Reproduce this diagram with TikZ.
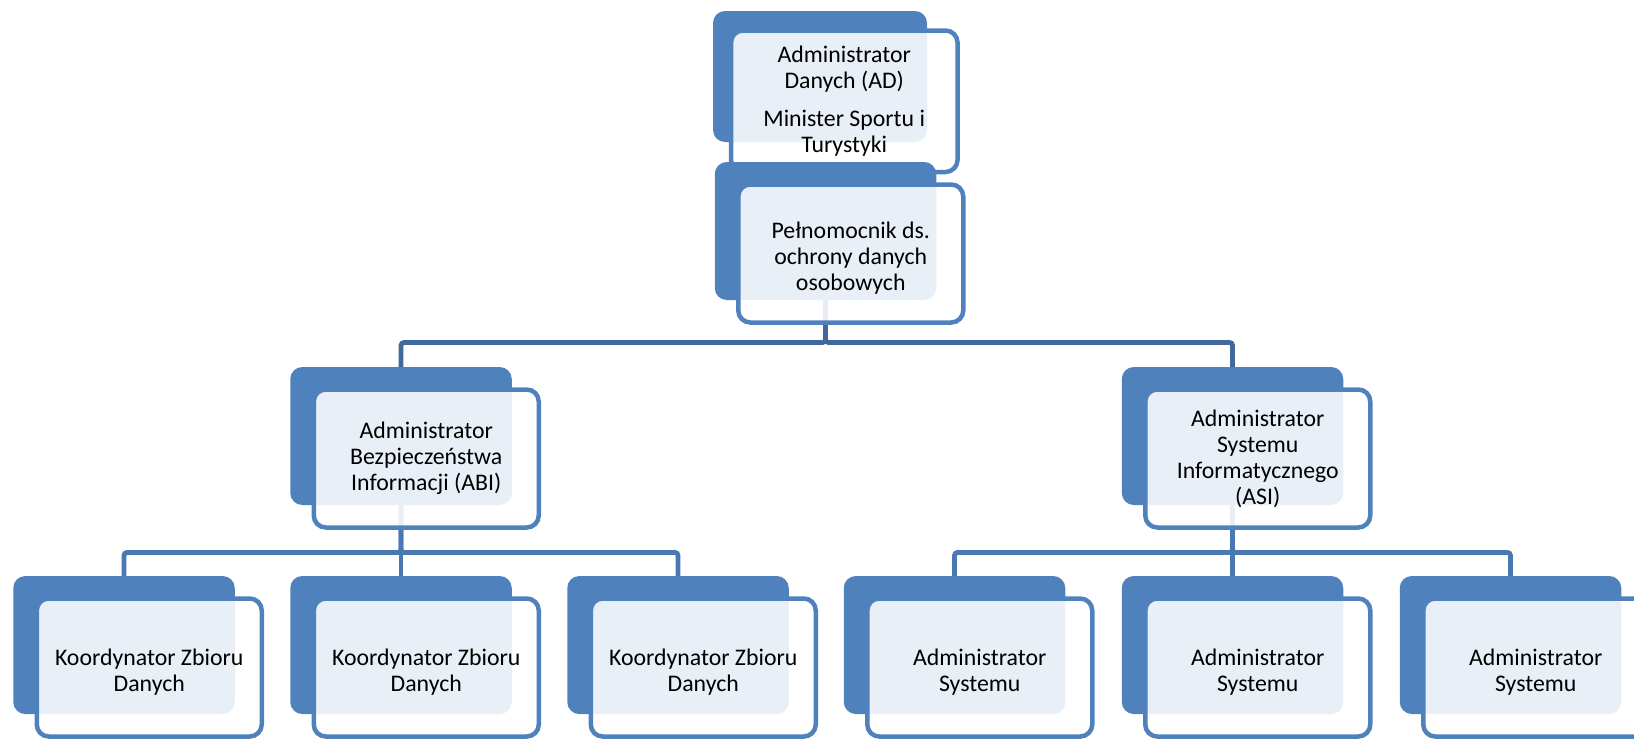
\documentclass[tikz,border=0pt]{standalone}
\usepackage{fontspec}
\setmainfont{Carlito}
\usetikzlibrary{positioning,backgrounds}

\definecolor{accent}{HTML}{4F81BD}
\definecolor{linktop}{HTML}{41699E}
\definecolor{linklow}{HTML}{4A78B2}
\newcommand{\padtop}{\rule{0pt}{12.5pt}}

\begin{document}
\begin{tikzpicture}[back/.style={on grid, fill=accent, rounded corners=6pt, minimum width=110.75pt, minimum height=69pt, inner sep=0pt, outer sep=0pt},front/.style={draw=accent, line width=2.25pt, fill=white, fill opacity=0.88, text opacity=1, rounded corners=6pt, minimum width=112.5pt, minimum height=69pt, inner sep=0pt, outer sep=0pt, align=center, font=\fontsize{11.9pt}{13pt}\selectfont},link/.style={line width=2.4pt, rounded corners=1.5pt}]
\useasboundingbox (0,0) rectangle (817pt,-369.5pt);
\clip (0,0) rectangle (817pt,-369.5pt);
% top of the chart
\node[back, minimum width=107pt, minimum height=65.5pt] (ad) at (410pt,-38.25pt) {};
\node[front, minimum width=113.25pt, minimum height=70.75pt, below right=9.75pt and 9pt of ad.north west] (adt) {Administrator\\ Danych (AD)\\[5.75pt] Minister Sportu i\\ Turystyki};
\node[back, below right=77.25pt and 2.75pt of ad] (pel) {};
\node[front, below right=11.25pt and 11.75pt of pel.north west] (pelt) {\padtop Pełnomocnik ds.\\ ochrony danych\\ osobowych};
% second level
\node[back, below left=102.5pt and 212.25pt of pel] (abi) {};
\node[front, below right=11.25pt and 11.75pt of abi.north west] (abit) {Administrator\\ Bezpieczeństwa\\ Informacji (ABI)};
\node[back, below right=102.5pt and 203.5pt of pel] (asi) {};
\node[front, below right=11.25pt and 11.75pt of asi.north west] (asit) {Administrator\\ Systemu\\ Informatycznego\\ (ASI)};
% third level
\node[back, below=104.5pt of abi] (kzd2) {};
\node[back, left=138.5pt of kzd2] (kzd1) {};
\node[front, below right=11.25pt and 11.75pt of kzd1.north west] (kzd1t) {\padtop Koordynator Zbioru\\ Danych};
\node[front, below right=11.25pt and 11.75pt of kzd2.north west] (kzd2t) {\padtop Koordynator Zbioru\\ Danych};
\node[back, right=138.5pt of kzd2] (kzd3) {};
\node[front, below right=11.25pt and 11.75pt of kzd3.north west] (kzd3t) {\padtop Koordynator Zbioru\\ Danych};
\node[back, below=104.5pt of asi] (as2) {};
\node[back, left=139pt of as2] (as1) {};
\node[front, below right=11.25pt and 11.75pt of as1.north west] (as1t) {\padtop Administrator\\ Systemu};
\node[front, below right=11.25pt and 11.75pt of as2.north west] (as2t) {\padtop Administrator\\ Systemu};
\node[back, right=139pt of as2] (as3) {};
\node[front, below right=11.25pt and 11.75pt of as3.north west] (as3t) {\padtop Administrator\\ Systemu};
% connectors
\begin{scope}[on background layer]
\draw[link, linktop] (pel) -- ++(0,-55.75pt) -| (abi.north);
\draw[link, linktop] (pel) -- ++(0,-55.75pt) -| (asi.north);
\draw[link, linklow] (abi) -- ++(0,-58.25pt) -| (kzd1.north);
\draw[link, linklow] (abi) -- ++(0,-58.25pt) -| (kzd2.north);
\draw[link, linklow] (abi) -- ++(0,-58.25pt) -| (kzd3.north);
\draw[link, linklow] (asi) -- ++(0,-58.25pt) -| (as1.north);
\draw[link, linklow] (asi) -- ++(0,-58.25pt) -| (as2.north);
\draw[link, linklow] (asi) -- ++(0,-58.25pt) -| (as3.north);
\end{scope}
\end{tikzpicture}
\end{document}
